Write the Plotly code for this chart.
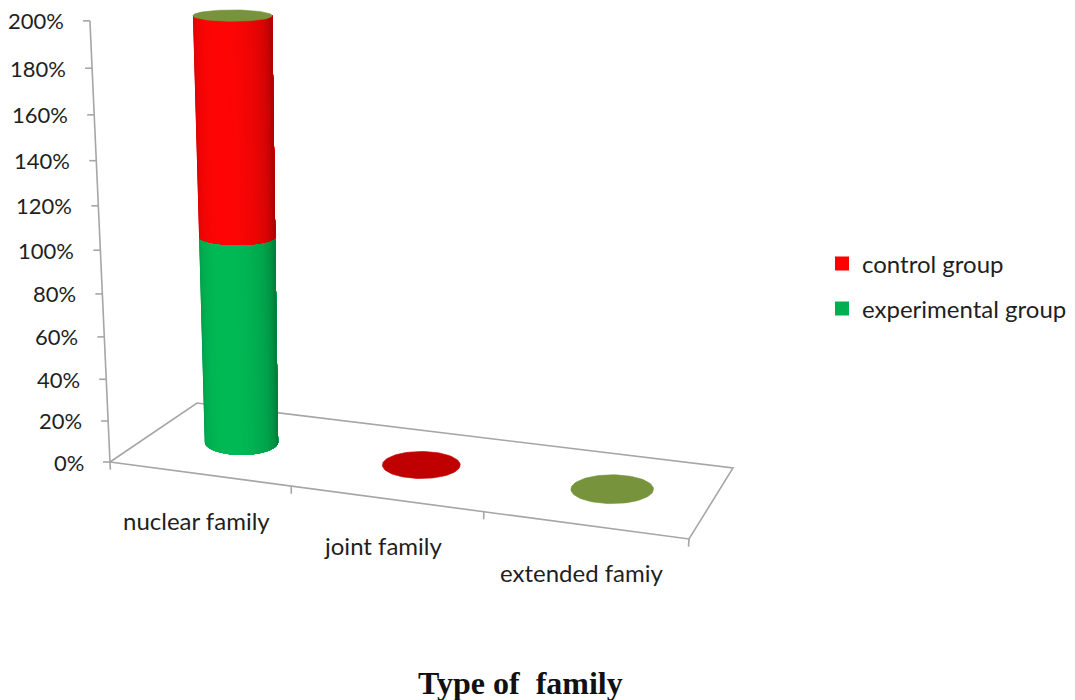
import numpy as np
import plotly.graph_objects as go

# ------------------------------------------------------------------ data
categories = ["nuclear family", "joint family", "extended famiy"]
experimental_group = [100, 0, 0]   # percent (bottom of stack)
control_group = [100, 0, 0]        # percent (stacked on top)
y_tick_values = [0, 20, 40, 60, 80, 100, 120, 140, 160, 180, 200]
y_tick_labels = ["0%", "20%", "40%", "60%", "80%", "100%",
                 "120%", "140%", "160%", "180%", "200%"]
x_axis_title = "Type of\u00a0 family"
legend_labels = ["control group", "experimental group"]

# ------------------------------------------------------------------ style
W, H = 1075, 700
FONT = "Lato"
TEXT = "#1f1f1f"
FRAME = "#a6a6a6"
GREEN = np.array([0, 186, 86])
RED = np.array([255, 6, 6])
LEGEND_GREEN = "#00b050"
LEGEND_RED = "#ff0000"
CAP_COLORS = ["#77933c", "#c00000", "#77933c"]

# perspective frame of the 3-D chart (pixel geometry of the floor)
FL, FR, BR, BL = (110, 462), (689, 539), (733, 468), (197, 403)
VANISH = np.array([352.0, 5780.0])   # vanishing point of vertical lines
RADIUS = 0.21                        # cylinder radius in category widths
DEPTH = 0.5                          # depth position of the cylinders


def make_homography(p0, p1, p2, p3):
    x0, y0 = p0; x1, y1 = p1; x2, y2 = p2; x3, y3 = p3
    dx1, dx2, dx3 = x1 - x2, x3 - x2, x0 - x1 + x2 - x3
    dy1, dy2, dy3 = y1 - y2, y3 - y2, y0 - y1 + y2 - y3
    den = dx1 * dy2 - dx2 * dy1
    g = (dx3 * dy2 - dx2 * dy3) / den
    h = (dx1 * dy3 - dx3 * dy1) / den
    a, b, c = x1 - x0 + g * x1, x3 - x0 + h * x3, x0
    d, e, f = y1 - y0 + g * y1, y3 - y0 + h * y3, y0

    def fn(s, t):
        w = g * s + h * t + 1
        return np.array([(a * s + b * t + c) / w, (d * s + e * t + f) / w])
    return fn


floor = make_homography(FL, FR, BR, BL)
n = len(categories)


def lift_factor(v, t):
    a = 0.000383 - 0.000026 * t
    return 1.0 / (1.0 - a * v)


def lift(p, v, t):
    return VANISH + (np.asarray(p, float) - VANISH) * lift_factor(v, t)


def ellipse_params(i, v):
    s = (i + 0.5) / n
    c0 = floor(s, DEPTH)
    rx0 = (floor(s + RADIUS / n, DEPTH)[0] - floor(s - RADIUS / n, DEPTH)[0]) / 2
    ry0 = (floor(s, DEPTH - RADIUS)[1] - floor(s, DEPTH + RADIUS)[1]) / 2
    c = lift(c0, v, DEPTH)
    rx = rx0 * lift_factor(v, DEPTH)
    ry = ry0 * 160.0 / (160.0 + v)
    return c, rx, ry


def front_arc(i, v, th):
    c, rx, ry = ellipse_params(i, v)
    return c[0] + rx * np.cos(th), c[1] + ry * np.sin(th)


def shade(base, th):
    f = 0.70 + 0.30 * max(np.cos(th - 1.9), 0.0) ** 0.7
    col = np.clip(base * f, 0, 255).astype(int)
    return "rgb(%d,%d,%d)" % tuple(col)


fig = go.Figure()

# ---- frame: floor outline, vertical axis, ticks
fx, fy = [], []
for p in (FL, FR, BR, BL, FL):
    fx.append(p[0]); fy.append(p[1])
fx.append(None); fy.append(None)
ax0, ax1 = lift(FL, 0, 0), lift(FL, max(y_tick_values), 0)
fx += [ax0[0], ax1[0], None]; fy += [ax0[1], ax1[1], None]
for v in y_tick_values:
    p = lift(FL, v, 0)
    fx += [p[0] - 7, p[0], None]; fy += [p[1], p[1], None]
for k in range(n + 1):
    p = floor(k / n, 0)
    q = lift(p, -3.8, 0)
    fx += [p[0], q[0], None]; fy += [p[1], q[1], None]
fig.add_trace(go.Scatter(x=fx, y=fy, mode="lines", line=dict(color=FRAME, width=1.6),
                         hoverinfo="skip", showlegend=False))

# ---- cylinders (stacked series); shading painted left to right, each band
#      covering everything to its right so no seams appear
N = 48
for i in range(n):
    segments = []
    base = 0.0
    for val, col in ((experimental_group[i], GREEN), (control_group[i], RED)):
        if val > 0:
            segments.append((base, base + val, col))
        base += val
    for (v0, v1, col) in segments:
        for j in range(N):
            ta = np.pi - j * np.pi / N
            tb = np.pi - (j + 1) * np.pi / N
            arc = np.linspace(ta, 0, max(2, N - j + 1))
            bx, by = front_arc(i, v0, arc)
            tx, ty = front_arc(i, v1, arc[::-1])
            xs = np.concatenate([bx, tx, bx[:1]])
            ys = np.concatenate([by, ty, by[:1]])
            c = shade(col, (ta + tb) / 2)
            fig.add_trace(go.Scatter(
                x=xs, y=ys, mode="lines", fill="toself", fillcolor=c,
                line=dict(color=c, width=0), hoverinfo="skip", showlegend=False))
    # top cap of the stack
    c, rx, ry = ellipse_params(i, base)
    th = np.linspace(0, 2 * np.pi, 90)
    fig.add_trace(go.Scatter(
        x=c[0] + rx * np.cos(th), y=c[1] + ry * np.sin(th),
        mode="lines", fill="toself", fillcolor=CAP_COLORS[i],
        line=dict(color=CAP_COLORS[i], width=0.6), hoverinfo="skip", showlegend=False))

# ---- legend entries
fig.add_trace(go.Scatter(x=[None], y=[None], mode="markers", name=legend_labels[0],
                         marker=dict(symbol="square", size=14, color=LEGEND_RED),
                         legend="legend"))
fig.add_trace(go.Scatter(x=[None], y=[None], mode="markers", name=legend_labels[1],
                         marker=dict(symbol="square", size=14, color=LEGEND_GREEN),
                         legend="legend2"))

annotations = []
for v, lbl in zip(y_tick_values, y_tick_labels):
    p = lift(FL, v, 0)
    annotations.append(dict(x=p[0] - 24, y=p[1], text=lbl, xref="x", yref="y",
                            xanchor="right", yanchor="middle", showarrow=False,
                            font=dict(family=FONT, size=22, color=TEXT)))
for i, cat in enumerate(categories):
    p = floor((i + 0.5) / n, 0)
    annotations.append(dict(x=p[0] - 3, y=p[1] + 47, text=cat, xref="x", yref="y",
                            xanchor="center", yanchor="middle", showarrow=False,
                            font=dict(family=FONT, size=24, color=TEXT)))
annotations.append(dict(x=520 / W, y=1 - 683 / H, xref="paper", yref="paper",
                        text="<b>%s</b>" % x_axis_title, showarrow=False,
                        xanchor="center", yanchor="middle",
                        font=dict(family="Liberation Serif", size=32, color="#111111")))

legend_style = dict(font=dict(family=FONT, size=24, color=TEXT), bgcolor="rgba(0,0,0,0)",
                    xanchor="left", yanchor="middle", itemclick=False, itemdoubleclick=False)
fig.update_layout(
    width=W, height=H, autosize=False,
    margin=dict(l=0, r=0, t=0, b=0),
    paper_bgcolor="white", plot_bgcolor="white",
    xaxis=dict(range=[0, W], visible=False, fixedrange=True),
    yaxis=dict(range=[H, 0], visible=False, fixedrange=True),
    showlegend=True,
    legend=dict(x=822 / W, y=1 - 264 / H, **legend_style),
    legend2=dict(x=822 / W, y=1 - 309 / H, **legend_style),
    annotations=annotations,
)

fig.write_html("out.html")
